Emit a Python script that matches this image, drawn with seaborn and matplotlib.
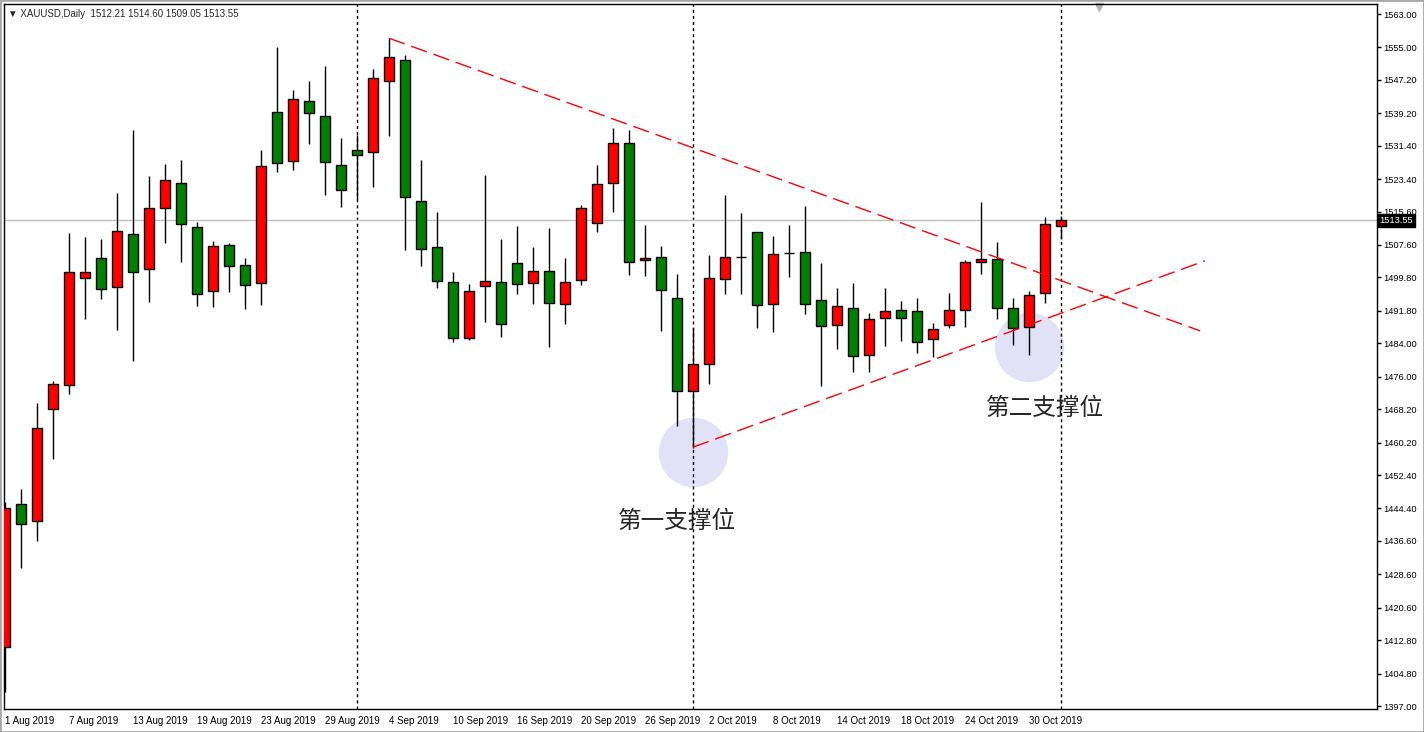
import numpy as np
import matplotlib
matplotlib.use("Agg")
import matplotlib.pyplot as plt
import matplotlib.transforms as mtransforms
from matplotlib.patches import Rectangle
import seaborn as sns

# XAUUSD daily, 1 Aug 2019 - 1 Nov 2019
opens = [1411.1, 1445.4, 1441.5, 1468.2, 1473.9, 1499.6, 1504.4, 1497.6, 1510.2, 1501.8,
         1516.4, 1522.4, 1511.8, 1496.5, 1507.6, 1502.7, 1498.4, 1539.4, 1527.7, 1542.1,
         1538.5, 1526.9, 1530.3, 1529.8, 1546.9, 1551.9, 1518.1, 1507.0, 1498.6, 1485.4,
         1497.7, 1498.6, 1503.2, 1498.4, 1501.3, 1493.4, 1499.1, 1512.8, 1522.4, 1532.0,
         1503.9, 1504.6, 1495.0, 1472.5, 1479.0, 1499.4, 1504.6, 1510.6, 1493.4, 1505.7,
         1505.8, 1494.3, 1488.3, 1492.6, 1481.1, 1490.0, 1491.9, 1491.7, 1485.0, 1488.3,
         1491.9, 1503.4, 1504.2, 1492.4, 1487.9, 1496.0, 1512.21]
highs = [1445.9, 1449.1, 1469.7, 1475.0, 1510.4, 1509.5, 1509.0, 1520.1, 1535.2, 1524.1,
         1527.0, 1527.9, 1513.0, 1508.6, 1508.1, 1504.4, 1530.3, 1555.0, 1544.8, 1546.9,
         1550.5, 1533.3, 1534.0, 1549.8, 1557.2, 1553.2, 1528.0, 1515.5, 1501.0, 1498.2,
         1524.4, 1509.0, 1512.1, 1507.1, 1511.7, 1504.5, 1517.1, 1526.8, 1535.7, 1535.2,
         1512.4, 1507.3, 1500.6, 1487.6, 1505.1, 1519.6, 1515.3, 1510.6, 1509.7, 1512.3,
         1516.9, 1503.2, 1497.2, 1498.4, 1491.4, 1497.2, 1494.1, 1495.0, 1488.8, 1496.2,
         1503.9, 1517.8, 1508.2, 1495.0, 1496.5, 1514.2, 1514.60]
lows = [1400.3, 1430.2, 1436.6, 1456.3, 1471.9, 1489.9, 1494.7, 1487.3, 1479.8, 1494.0,
        1508.1, 1503.6, 1493.0, 1492.8, 1496.4, 1492.3, 1493.3, 1525.2, 1525.7, 1531.9,
        1519.7, 1516.8, 1518.7, 1521.6, 1533.8, 1506.3, 1502.5, 1497.3, 1484.4, 1484.9,
        1489.2, 1485.6, 1495.8, 1493.4, 1483.2, 1488.7, 1497.9, 1510.6, 1515.6, 1500.3,
        1500.1, 1486.9, 1464.2, 1459.0, 1474.3, 1495.8, 1495.8, 1487.8, 1486.8, 1499.8,
        1491.1, 1473.8, 1482.7, 1477.1, 1477.1, 1483.3, 1484.6, 1481.6, 1480.7, 1487.6,
        1487.9, 1500.6, 1489.8, 1483.5, 1481.1, 1493.6, 1509.05]
closes = [1444.4, 1440.6, 1463.6, 1474.2, 1501.0, 1501.0, 1497.0, 1510.9, 1501.0, 1516.4,
          1523.1, 1512.6, 1495.8, 1507.3, 1502.5, 1497.9, 1526.5, 1527.2, 1542.5, 1539.2,
          1527.4, 1520.7, 1529.1, 1547.6, 1552.6, 1519.0, 1506.6, 1498.9, 1485.2, 1496.5,
          1498.9, 1488.6, 1498.2, 1501.3, 1493.8, 1498.6, 1516.4, 1522.2, 1532.0, 1503.4,
          1504.4, 1496.7, 1472.5, 1479.0, 1499.6, 1504.6, 1504.6, 1493.1, 1505.4, 1505.7,
          1493.4, 1488.1, 1492.9, 1480.9, 1489.8, 1491.7, 1490.0, 1484.3, 1487.4, 1491.9,
          1503.4, 1504.2, 1492.4, 1487.6, 1495.5, 1512.6, 1513.55]

date_labels = ["1 Aug 2019", "7 Aug 2019", "13 Aug 2019", "19 Aug 2019", "23 Aug 2019",
               "29 Aug 2019", "4 Sep 2019", "10 Sep 2019", "16 Sep 2019", "20 Sep 2019",
               "26 Sep 2019", "2 Oct 2019", "8 Oct 2019", "14 Oct 2019", "18 Oct 2019",
               "24 Oct 2019", "30 Oct 2019"]
price_ticks = [1563.00, 1555.00, 1547.20, 1539.20, 1531.40, 1523.40, 1515.60, 1507.60,
               1499.80, 1491.80, 1484.00, 1476.00, 1468.20, 1460.20, 1452.40, 1444.40,
               1436.60, 1428.60, 1420.60, 1412.80, 1404.80, 1397.00]

month_starts = [22, 43, 66]          # bar index of first bar of Sep, Oct, Nov
last_price = 1513.55
resist_x, resist_y = [24, 74.7], [1557.2, 1487.0]
support_x, support_y = [43, 75.0], [1459.1, 1503.8]
circle_x, circle_y = [43, 64], [1458.0, 1483.1]
notes = ["第一支撑位", "第二支撑位"]
note_x, note_y = [42.0, 65.0], [1441.4, 1468.3]

sns.set_style("white")
plt.rcParams['font.family'] = ['Liberation Sans', 'DejaVu Sans']

fig = plt.figure(figsize=(14.24, 7.32), dpi=100)
ax = fig.add_axes([4 / 1424, 23 / 732, 1373 / 1424, 705 / 732])

o = np.array(opens)
h = np.array(highs)
l = np.array(lows)
c = np.array(closes)
x = np.arange(len(o))

# circles highlighting the supports
ax.scatter(circle_x, circle_y, s=2500, color='#e2e2f7', linewidths=0, zorder=0)

# period separators and current price line
for m in month_starts:
    ax.axvline(m, color='black', lw=1, ls=(0, (2.2, 2.2)), zorder=1)
ax.axhline(last_price, color='#c0c0c0', lw=1, zorder=1)

# candles
ax.vlines(x, l, h, color='black', lw=1, zorder=2)
body_col = np.where(c >= o, '#ff0000', '#008000')
ax.bar(x, np.abs(c - o), bottom=np.minimum(o, c), width=0.6, color=body_col,
       edgecolor='black', linewidth=1, zorder=3)

# trend lines
ax.plot(resist_x, resist_y, color='red', lw=1, ls=(0, (12, 5)), zorder=4)
ax.plot(support_x, support_y, color='red', lw=1, ls=(0, (12, 5)), zorder=4)

for t, tx, ty in zip(notes, note_x, note_y):
    ax.text(tx, ty, t, fontsize=17, ha='center', va='center',
            family=['Noto Sans CJK SC', 'DejaVu Sans'], zorder=5)

ax.set_xlim(-0.06, 85.75)
ax.set_ylim(1396.3, 1565.4)

ax.set_xticks(x[::4])
ax.set_xticklabels(date_labels, ha='left', fontsize=7)
ax.yaxis.tick_right()
ax.set_yticks(price_ticks)
ax.set_yticklabels([f"{p:.2f}" for p in price_ticks], fontsize=6.7)
ax.tick_params(axis='x', direction='out', length=3, width=1, pad=2, colors='black')
ax.tick_params(axis='y', direction='out', length=3, width=1, pad=1.5, colors='black')
for s in ax.spines.values():
    s.set_visible(True)
    s.set_color('black')
    s.set_linewidth(1)

# header and current price tag
ax.text(0.003, 0.986, "▼ XAUUSD,Daily  1512.21 1514.60 1509.05 1513.55",
        transform=ax.transAxes, fontsize=7, va='center', ha='left')
trans = mtransforms.blended_transform_factory(ax.transAxes, ax.transData)
ax.text(1.002, last_price, f"{last_price:.2f}", transform=trans, fontsize=6.7,
        color='white', va='center', ha='left',
        bbox=dict(boxstyle='square,pad=0.2', fc='black', ec='black'))
ax.plot([68.4], [0.996], marker='v', ms=6, color='#b4b4b4',
        transform=mtransforms.blended_transform_factory(ax.transData, ax.transAxes),
        clip_on=False)

fig.patches.append(Rectangle((0, 0), 1, 1, transform=fig.transFigure, fill=False,
                             edgecolor='#a8a8a8', lw=2))

fig.savefig("out.png", dpi=100)
